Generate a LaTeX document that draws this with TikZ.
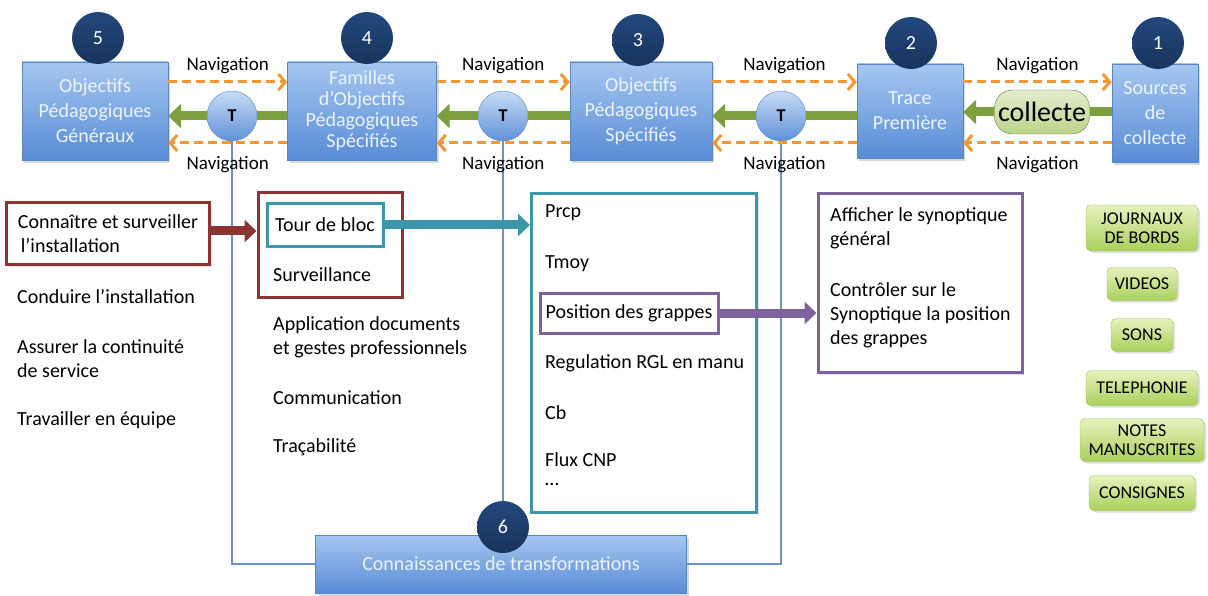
\documentclass[tikz,border=0pt]{standalone}
\usepackage{fontspec}
\setmainfont{Carlito}
\usetikzlibrary{arrows.meta,shadows}

\definecolor{boxtop}{RGB}{165,198,240}
\definecolor{boxbot}{RGB}{88,140,214}
\definecolor{boxline}{RGB}{90,135,195}
\definecolor{boxtext}{RGB}{236,243,252}
\definecolor{navy}{RGB}{34,72,124}
\definecolor{navydark}{RGB}{24,52,92}
\definecolor{ttop}{RGB}{200,220,246}
\definecolor{tbot}{RGB}{95,145,215}
\definecolor{navorange}{RGB}{243,152,52}
\definecolor{flowgreen}{RGB}{124,160,62}
\definecolor{collecttop}{RGB}{226,236,204}
\definecolor{collectbot}{RGB}{190,212,140}
\definecolor{collectline}{RGB}{100,125,60}
\definecolor{linkblue}{RGB}{105,145,205}
\definecolor{maroonbox}{RGB}{140,52,50}
\definecolor{tealbox}{RGB}{60,150,170}
\definecolor{purplebox}{RGB}{125,98,158}
\definecolor{srctop}{RGB}{230,242,190}
\definecolor{srcbot}{RGB}{170,208,90}
\definecolor{srcline}{RGB}{160,195,95}

\begin{document}
\begin{tikzpicture}[x=1pt, y=-1pt,
  every node/.style={font=\fontsize{20}{24}\selectfont},
  blk/.style={draw=boxline, top color=boxtop, bottom color=boxbot, text=boxtext, align=center, inner sep=2pt,
    font=\fontsize{20}{25}\selectfont, drop shadow={opacity=.3, shadow xshift=2pt, shadow yshift=-3pt}},
  num/.style={circle, minimum size=52pt, inner sep=0pt, top color=navy, bottom color=navydark, text=white},
  tee/.style={circle, minimum size=50pt, inner sep=0pt, draw=boxline, top color=ttop, bottom color=tbot,
    font=\bfseries\fontsize{18}{18}\selectfont},
  nav/.style={draw=navorange, line width=3pt, dash pattern=on 9pt off 5pt, -{Straight Barb[length=7pt, width=16pt]}},
  flow/.style={draw=flowgreen, line width=9pt},
  flowtip/.style={flow, -{Triangle[length=13pt, width=24pt]}},
  lbl/.style={inner sep=0pt, font=\fontsize{19}{19}\selectfont},
  link/.style={draw=linkblue, line width=2pt},
  item/.style={anchor=west, align=left, inner sep=0pt},
  itembox/.style={draw=#1, line width=3pt, fill=white, drop shadow={opacity=.25, shadow xshift=2pt, shadow yshift=-2pt}},
  bigarrow/.style={draw=#1, line width=9pt, -{Triangle[length=12pt, width=22pt]}},
  src/.style={draw=srcline, rounded corners=5pt, top color=srctop, bottom color=srcbot, align=center, inner sep=2pt,
    font=\fontsize{18}{19}\selectfont, drop shadow={opacity=.25, shadow xshift=2pt, shadow yshift=-2pt}}
]
\useasboundingbox (0,0) rectangle (1208,596);

% chain of traces
\node[blk, minimum width=146pt, minimum height=98pt] (b5) at (95,111) {Objectifs\\Pédagogiques\\Généraux};
\node[blk, minimum width=149pt, minimum height=98pt, font=\fontsize{20}{21}\selectfont] (b4) at (362,111) {Familles\\d’Objectifs\\Pédagogiques\\Spécifiés};
\node[blk, minimum width=142pt, minimum height=98pt] (b3) at (641,111) {Objectifs\\Pédagogiques\\Spécifiés};
\node[blk, minimum width=106pt, minimum height=94pt] (b2) at (910,111) {Trace\\Première};
\node[blk, minimum width=86pt, minimum height=98pt] (b1) at (1155,113) {Sources\\de\\collecte};
\foreach \k/\px/\py in {5/98/38, 4/367/38, 3/638/40, 2/911/43, 1/1158/43}
  \node[num] (n\k) at (\px,\py) {\k};
\node[tee] (t1) at (232,116) {T};
\node[tee] (t2) at (503,116) {T};
\node[tee] (t3) at (781,116) {T};
\node[draw=collectline, rounded corners=18pt, top color=collecttop, bottom color=collectbot,
  minimum width=95pt, minimum height=44pt, font=\fontsize{28}{28}\selectfont] (cl) at (1042,112) {collecte};
\node[blk, minimum width=371pt, minimum height=58pt] (b6) at (501,564) {Connaissances de transformations};
\node[num] (n6) at (503,527) {6};

\draw[link] (t1.south) |- (b6.west);
\draw[link] (t2.south) -- (n6.north);
\draw[link] (t3.south) |- (b6.east);

\foreach \ls/\rs/\ms in {b5/b4/t1, b4/b3/t2, b3/b2/t3, b2/b1/cl} {
  \draw[nav] ([yshift=29pt]\ls.east) -- ([yshift=29pt]\ls.east -| \rs.west)
    node[lbl, midway, above=7pt] (up-\ms) {Navigation};
  \draw[nav] ([yshift=-32pt]\ls.east -| \rs.west) -- ([yshift=-32pt]\ls.east)
    node[lbl, midway, below=12pt] (dn-\ms) {Navigation};
  \draw[flow] (\rs.west |- \ms) -- (\ms.east);
  \draw[flowtip] (\ms.west) -- (\ls.east |- \ms);
}

% competences
\node[itembox=maroonbox, minimum width=203pt, minimum height=62pt, align=left] (c1) at (108,234)
  {Connaître et surveiller\\\hspace{3pt}l’installation};
\node[item] (c2) at (17,297) {Conduire l’installation};
\node[item] (c3) at (17,359) {Assurer la continuité\\de service};
\node[item] (c4) at (17,420) {Travailler en équipe};

\node[itembox=maroonbox, minimum width=144pt, minimum height=104pt] (g2) at (330,245) {};
\node[itembox=tealbox, minimum width=116pt, minimum height=43pt] (f1) at (325,225) {Tour de bloc};
\node[item] (f2) at (273,275) {Surveillance};
\node[item] (f3) at (273,337) {Application documents\\et gestes professionnels};
\node[item] (f4) at (273,398) {Communication};
\node[item] (f5) at (273,447) {Traçabilité};

\node[itembox=tealbox, minimum width=225pt, minimum height=318pt] (o0) at (644,353) {};
\node[item] (o1) at (545,213) {Prcp};
\node[item] (o2) at (545,264) {Tmoy};
\node[itembox=purplebox, minimum width=178pt, minimum height=40pt] (p1) at (629,313) {Position des grappes};
\node[item] (o3) at (545,363) {Regulation RGL en manu};
\node[item] (o4) at (545,413) {Cb};
\node[item] (o5) at (545,460) {Flux CNP};
\node[item] (o6) at (545,484) {…};

\node[itembox=purplebox, minimum width=204pt, minimum height=179pt] (p2) at (920,283) {};
\node[item] (a1) at (830,228) {Afficher le synoptique\\général};
\node[item] (a2) at (830,315) {Contrôler sur le\\Synoptique la position\\des grappes};

\draw[bigarrow=maroonbox] ([yshift=3pt]c1.east) -- ([yshift=3pt]c1.east -| g2.west);
\draw[bigarrow=tealbox] (f1.east) -- (f1.east -| o0.west);
\draw[bigarrow=purplebox] (p1.east) -- (p1.east -| p2.west);

% sources
\node[src, minimum width=112pt, minimum height=46pt] (s1) at (1142,228) {JOURNAUX\\DE BORDS};
\node[src, minimum width=70pt, minimum height=33pt] (s2) at (1142,284) {VIDEOS};
\node[src, minimum width=62pt, minimum height=33pt] (s3) at (1142,335) {SONS};
\node[src, minimum width=112pt, minimum height=35pt] (s4) at (1142,388) {TELEPHONIE};
\node[src, minimum width=124pt, minimum height=43pt] (s5) at (1142,440) {NOTES\\MANUSCRITES};
\node[src, minimum width=106pt, minimum height=35pt] (s6) at (1142,493) {CONSIGNES};
\end{tikzpicture}
\end{document}
